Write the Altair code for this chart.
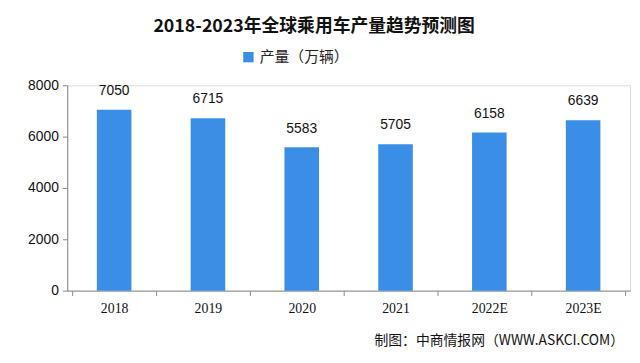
import altair as alt
import pandas as pd

years = ["2018", "2019", "2020", "2021", "2022E", "2023E"]
output = [7050, 6715, 5583, 5705, 6158, 6639]
series_name = "产量（万辆）"

df = pd.DataFrame({"year": years, "value": output, "series": [series_name] * len(years)})

base = alt.Chart(df)

bars = base.mark_bar(color="#3A8EE6", size=35).encode(
    x=alt.X("year:N", sort=years, title=None,
            axis=alt.Axis(labelAngle=0, labelFont="Liberation Serif", labelFontSize=14,
                          labelColor="#111", tickBand="extent", tickSize=5,
                          domainColor="#888", tickColor="#888", labelPadding=6)),
    y=alt.Y("value:Q", title=None, scale=alt.Scale(domain=[0, 8000]),
            axis=alt.Axis(values=[0, 2000, 4000, 6000, 8000], format="d", grid=False,
                          labelFont="Liberation Sans",
                          labelFontSize=14, labelColor="#111", domainColor="#888",
                          tickColor="#888", tickSize=5, labelPadding=4)),
    color=alt.Color("series:N", scale=alt.Scale(range=["#3A8EE6"]),
                    legend=alt.Legend(title=None, orient="none", legendX=176, legendY=-36,
                                      symbolType="square", symbolSize=110, labelFontSize=15,
                                      labelFont="Noto Sans CJK SC", labelColor="#222",
                                      symbolStrokeWidth=0)),
)

labels = base.mark_text(dy=-12, baseline="bottom", fontSize=14, font="Liberation Sans", color="#111").encode(
    x=alt.X("year:N", sort=years),
    y="value:Q",
    text="value:Q",
)

title = alt.Chart(pd.DataFrame({"t": ["2018-2023年全球乘用车产量趋势预测图"]})).mark_text(
    fontSize=18, fontWeight="bold", font="Noto Sans CJK SC", color="#111"
).encode(x=alt.value(250), y=alt.value(-59), text="t:N")

footer = alt.Chart(pd.DataFrame({"t": ["制图：中商情报网（WWW.ASKCI.COM）"]})).mark_text(
    fontSize=14, font="Noto Sans CJK SC", color="#111", align="right"
).encode(x=alt.value(564), y=alt.value(259), text="t:N")

chart = alt.layer(bars, labels, title, footer).properties(
    width=570, height=208,
    autosize=alt.AutoSizeParams(type="none"),
    padding={"left": 60, "top": 76, "right": 2, "bottom": 70},
).configure_view(stroke=None).configure(background="white")

chart.save("out.html", embed_options={"renderer": "svg", "actions": False})
